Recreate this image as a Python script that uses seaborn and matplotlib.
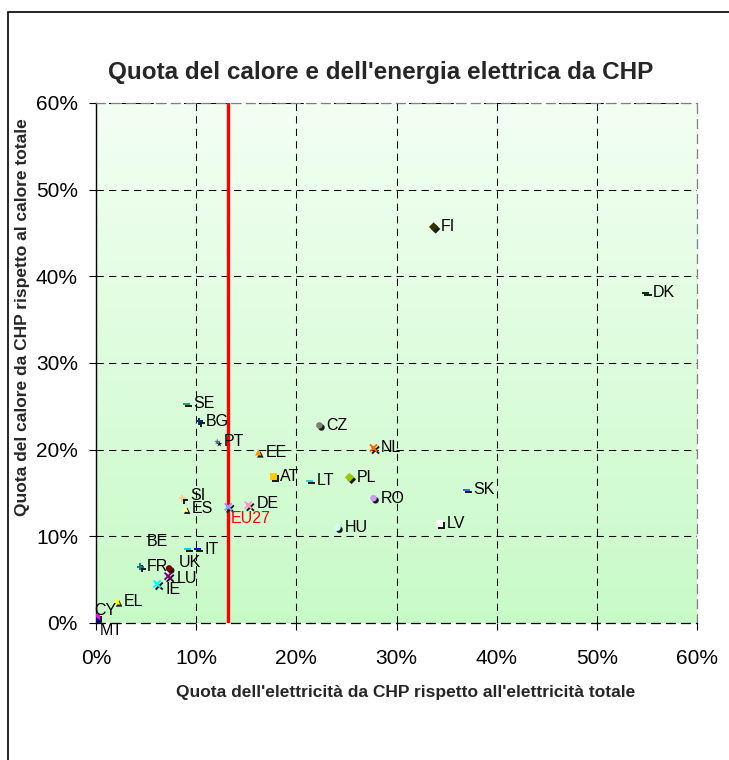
import numpy as np
import pandas as pd
import matplotlib
matplotlib.use("Agg")
import matplotlib.pyplot as plt
import matplotlib.patheffects as pe
from matplotlib.patches import Rectangle
from matplotlib.ticker import PercentFormatter
import seaborn as sns

# Quota CHP per paese (lettura dal grafico)
paesi = ['FI', 'DK', 'CZ', 'NL', 'EE', 'AT', 'LT', 'PL', 'RO', 'SK', 'LV', 'HU', 'DE', 'EU27',
         'SE', 'BG', 'PT', 'SI', 'ES', 'BE', 'IT', 'FR', 'UK', 'LU', 'IE', 'EL', 'CY', 'MT']
quota_elettricita = [0.337, 0.549, 0.223, 0.277, 0.162, 0.177, 0.213, 0.253, 0.277, 0.370, 0.343, 0.241,
                     0.152, 0.132, 0.090, 0.103, 0.121, 0.086, 0.089, 0.091, 0.101, 0.044, 0.073, 0.072,
                     0.061, 0.021, 0.001, 0.000]
quota_calore = [0.457, 0.381, 0.228, 0.202, 0.197, 0.169, 0.164, 0.168, 0.144, 0.154, 0.115, 0.110,
                0.136, 0.134, 0.253, 0.233, 0.209, 0.144, 0.132, 0.085, 0.085, 0.065, 0.063, 0.054,
                0.045, 0.025, 0.007, 0.002]
tick_valori = [0.0, 0.1, 0.2, 0.3, 0.4, 0.5, 0.6]

titolo = "Quota del calore e dell'energia elettrica da CHP"
etichetta_x = "Quota dell'elettricità da CHP rispetto all'elettricità totale"
etichetta_y = "Quota del calore da CHP rispetto al calore totale"

# stile dei marcatori (stile Excel)
stili = {
    'FI': ('D', '#333300'), 'DK': ('_', '#003300'), 'CZ': ('o', '#808080'), 'NL': ('x', '#ff6600'),
    'EE': ('^', '#ff9900'), 'AT': ('s', '#ffcc00'), 'LT': ('_', '#33cccc'), 'PL': ('D', '#99cc00'),
    'RO': ('o', '#cc99ff'), 'SK': ('_', '#3366ff'), 'LV': ('s', '#ffffff'), 'HU': ('o', '#ccffff'),
    'DE': ('x', '#ff99cc'), 'EU27': ('x', '#9999ff'), 'SE': ('_', '#339966'), 'BG': ('+', '#003366'),
    'PT': ('*', '#666699'), 'SI': ('+', '#ffcc99'), 'ES': ('^', '#ffff99'), 'BE': ('_', '#00ccff'),
    'IT': ('_', '#0000ff'), 'FR': ('+', '#008080'), 'UK': ('o', '#800000'), 'LU': ('x', '#800080'),
    'IE': ('x', '#00ffff'), 'EL': ('^', '#ffff00'), 'CY': ('s', '#ff00ff'), 'MT': ('D', '#000080'),
}
# spostamento delle etichette (pixel)
spostamenti = {'BE': (-40, 8), 'CY': (-3, 6), 'MT': (4, -9), 'EU27': (3, -12), 'SI': (8, 3),
               'UK': (10, 6), 'LU': (9, -2), 'IE': (8, -5), 'DE': (8, 2)}

df = pd.DataFrame({'paese': paesi, 'x': quota_elettricita, 'y': quota_calore})

sns.set_theme(style='white')
plt.rcParams['font.family'] = ['Liberation Sans', 'DejaVu Sans']

fig = plt.figure(figsize=(7.29, 7.60), dpi=100)
ax = fig.add_axes([96 / 729, 1 - 623 / 760, 601 / 729, 520 / 760])

# sfondo sfumato
grad = np.linspace(0, 1, 256)[:, None]
top = np.array(matplotlib.colors.to_rgb('#f3fff3'))
bottom = np.array(matplotlib.colors.to_rgb('#c8fac8'))
img = top[None, None, :] * (1 - grad[..., None]) + bottom[None, None, :] * grad[..., None]
ax.imshow(img, extent=[0, 1, 0, 1], transform=ax.transAxes, aspect='auto', zorder=0)

for _, r in df.iterrows():
    m, c = stili[r['paese']]
    filled = m in ('D', 'o', '^', 's', '*')
    sns.scatterplot(x=[r['x']], y=[r['y']], marker=m, color=c, s=22 if filled else 26,
                    edgecolor='none' if filled else c, linewidth=1.4 if not filled else 0,
                    ax=ax, zorder=5, legend=False)
    coll = ax.collections[-1]
    if filled:
        coll.set_path_effects([pe.SimplePatchShadow(offset=(1.5, -1.5), shadow_rgbFace='k', alpha=1),
                               pe.Normal()])
    else:
        coll.set_path_effects([pe.SimpleLineShadow(offset=(1.5, -1.5), shadow_color='k', alpha=1),
                               pe.Normal()])
    dx, dy = spostamenti.get(r['paese'], (7, 0))
    ax.annotate(r['paese'], (r['x'], r['y']), xytext=(dx, dy), textcoords='offset pixels',
                ha='left', va='center', fontsize=11.5,
                color='red' if r['paese'] == 'EU27' else 'black', zorder=6)

# linea EU27
eu_x = df.loc[df['paese'] == 'EU27', 'x'].iloc[0]
ax.axvline(eu_x, ymin=0, ymax=1, color='red', lw=2.4, zorder=4)

ax.set_xlim(0, 0.6)
ax.set_ylim(0, 0.6)
ax.set_xticks(tick_valori)
ax.set_yticks(tick_valori)
ax.xaxis.set_major_formatter(PercentFormatter(1.0, decimals=0))
ax.yaxis.set_major_formatter(PercentFormatter(1.0, decimals=0))
ax.grid(True, color='black', linestyle=(0, (7, 5)), linewidth=0.75, zorder=1)
ax.set_axisbelow(True)
ax.tick_params(axis='both', labelsize=15, colors='black', length=5, width=0.8,
               direction='out')
ax.tick_params(axis='x', pad=14, bottom=True)
ax.tick_params(axis='y', pad=8, left=True)
ax.set_xlabel('')
ax.set_ylabel('')

ax.spines['left'].set_color('black')
ax.spines['left'].set_linewidth(1)
ax.spines['bottom'].set_color('black')
ax.spines['bottom'].set_linestyle((0, (7, 5)))
ax.spines['bottom'].set_linewidth(0.9)
for s in ('top', 'right'):
    ax.spines[s].set_color('#808080')
    ax.spines[s].set_linestyle((0, (7, 5)))
    ax.spines[s].set_linewidth(0.9)

fig.text(381 / 729, 1 - 72 / 760, titolo, ha='center', va='center', fontsize=17.5, fontweight='bold')
fig.text(406 / 729, 1 - 692 / 760, etichetta_x, ha='center', va='center', fontsize=12.5,
         fontweight='bold')
fig.text(23 / 729, 1 - 317 / 760, etichetta_y, ha='center', va='center', rotation=90,
         fontsize=12.5, fontweight='bold')

# cornice del grafico
fig.add_artist(Rectangle((8 / 729, -0.1), 1.1, 1 - 12 / 760 + 0.1, transform=fig.transFigure,
                         fill=False, edgecolor='black', lw=1.2))

fig.savefig('out.png', dpi=100)
